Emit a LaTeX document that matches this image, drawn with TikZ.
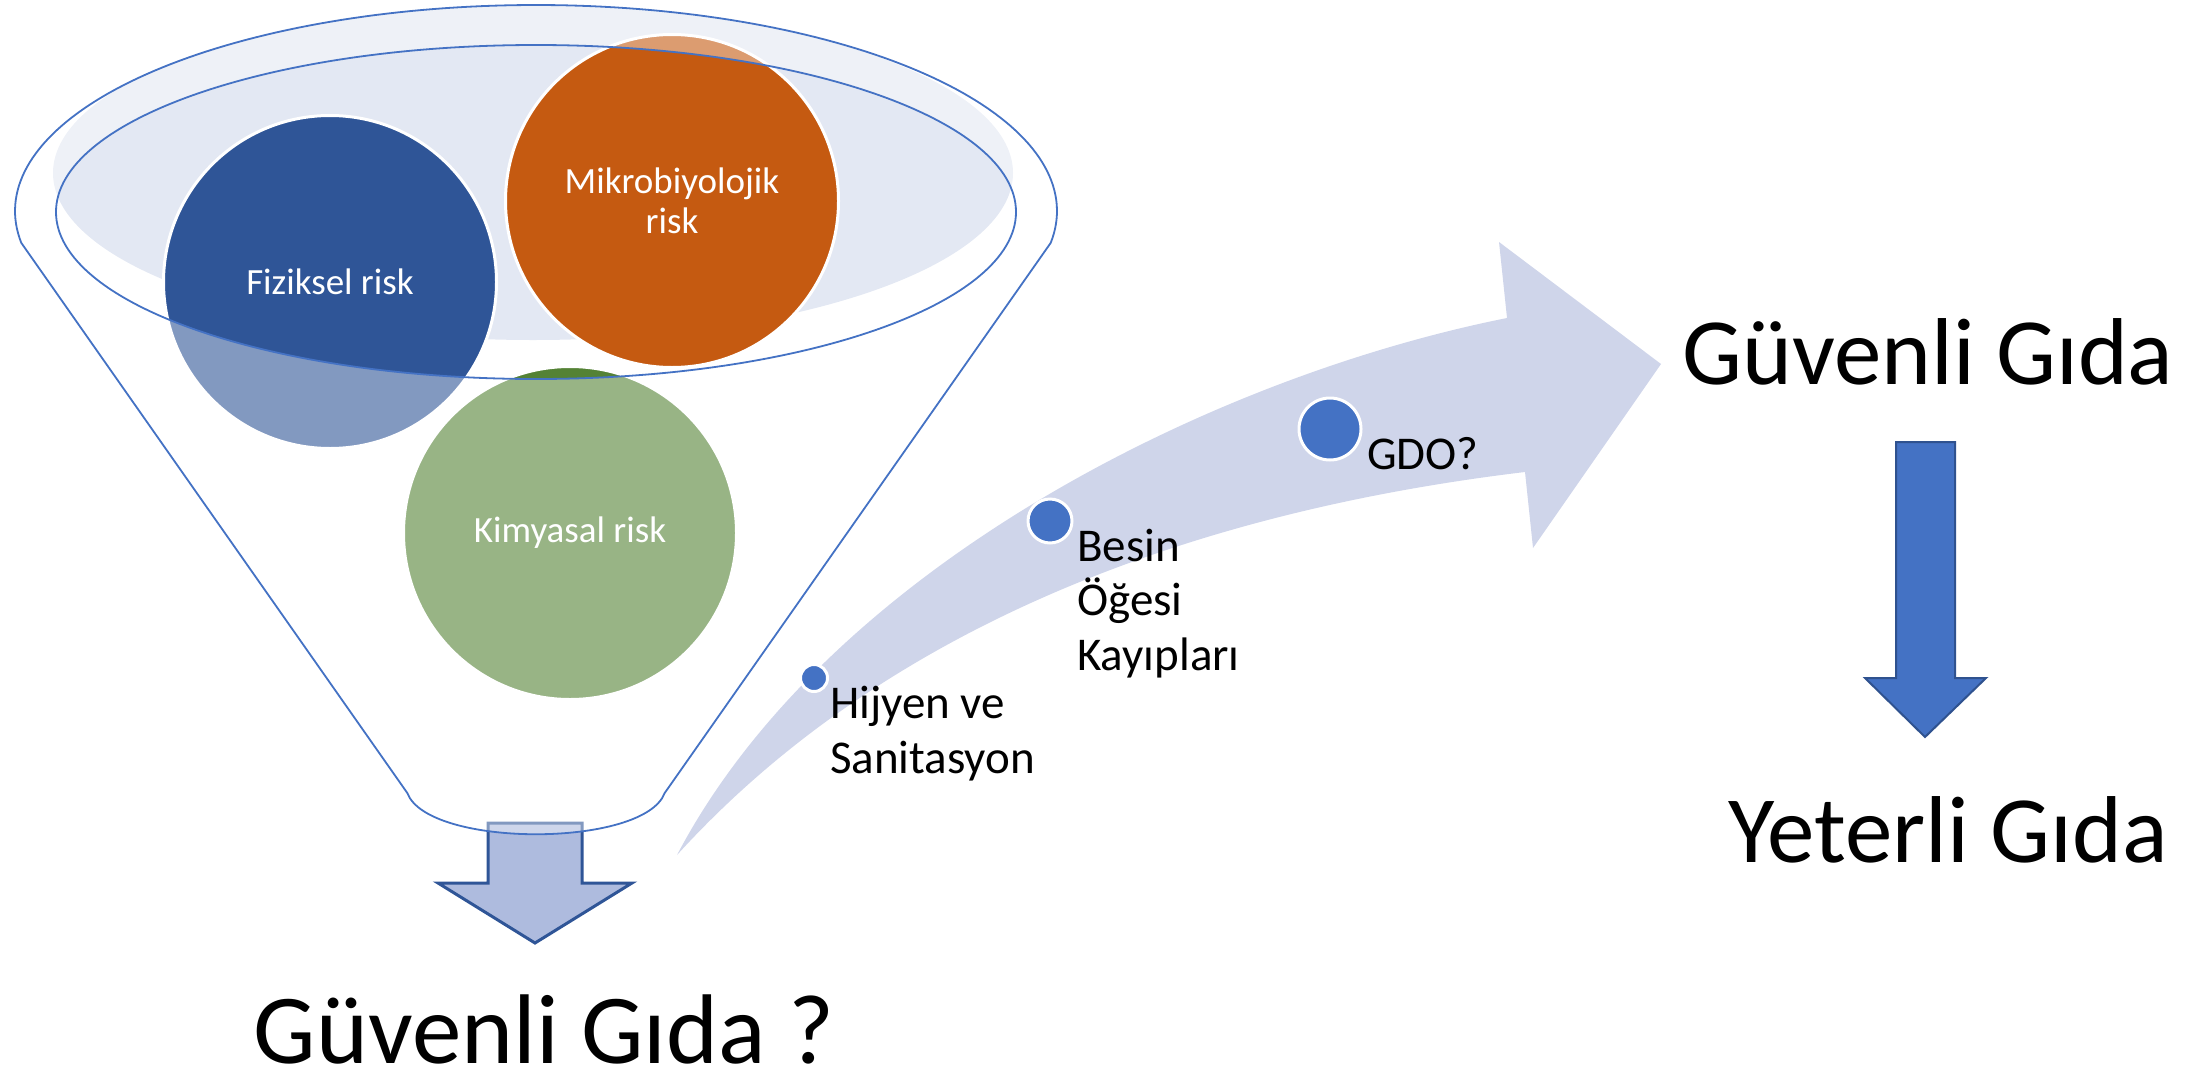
\documentclass[tikz,border=0pt]{standalone}
\usepackage{fontspec}
\setmainfont{Carlito}
\definecolor{accent}{HTML}{4472C4}
\definecolor{darkacc}{HTML}{2F528F}
\definecolor{fizblue}{HTML}{2F5597}
\definecolor{mikorange}{HTML}{C55A11}
\definecolor{kimgreen}{HTML}{548235}
\definecolor{liquid}{HTML}{E3E8F3}
\definecolor{bandcol}{HTML}{CFD5EA}
\definecolor{outarrow}{HTML}{AEBBDE}
\begin{document}
\begin{tikzpicture}[x=1pt,y=-1pt,
  riskcircle/.style={circle, minimum size=333pt, inner sep=0pt, draw=white, line width=3pt, text=white, font=\fontsize{37}{40}\selectfont, align=center},
  funnelline/.style={draw=accent, line width=1.8pt},
  bulletdot/.style={circle, fill=accent, draw=white, line width=3pt, inner sep=0pt},
  ptlabel/.style={font=\fontsize{47}{54.5}\selectfont, align=left, anchor=base west, inner sep=0pt},
  bigtext/.style={font=\fontsize{95}{110}\selectfont, anchor=base, inner sep=0pt},
  blockarrow/.style={line join=miter}]
\useasboundingbox (0,0) rectangle (2210,1076);

% liquid at top of funnel
\fill[liquid] (533,173) ellipse [x radius=480pt, y radius=167pt];

% risk circles
\node[riskcircle, fill=fizblue] (fiz) at (330,282) {Fiziksel risk};
\node[riskcircle, fill=mikorange] (mik) at (672,201) {Mikrobiyolojik\\risk};
\node[riskcircle, fill=kimgreen] (kim) at (570,533) {Kimyasal risk};

% arrow out of the funnel
\draw[blockarrow, fill=outarrow, draw=fizblue, line width=3pt]
  (488,823) coordinate (fa1) -- (582,823) -- (582,883) -- (632,883) -- (535,943) coordinate (fatip) -- (438,883) -- (488,883) -- cycle;

% funnel body (semi-transparent, open at the rim)
\path[fill=white, fill opacity=0.4, even odd rule]
  plot[domain=171.1:368.9, samples=150, variable=\t] ({536+521*cos(\t)},{211+206*sin(\t)})
  -- (664.7,793) .. controls (644,848) and (428,848) .. (407.3,793) -- cycle
  (536,212) ellipse [x radius=480pt, y radius=167pt];
\draw[funnelline]
  plot[domain=171.1:368.9, samples=150, variable=\t] ({536+521*cos(\t)},{211+206*sin(\t)})
  -- (664.7,793) .. controls (644,848) and (428,848) .. (407.3,793) -- cycle;
\draw[funnelline] (536,212) ellipse [x radius=480pt, y radius=167pt];

% curved rising arrow
\fill[bandcol] (677,855) coordinate (tail) .. controls (827,570) and (1207,378) .. (1507,318)
  -- (1499,242) -- (1661,364) coordinate (tip) -- (1533,548) -- (1525,472)
  .. controls (1175,514) and (877,635) .. (677,855) -- cycle;

% steps on the arrow
\node[bulletdot, minimum size=27pt] (d1) at (814,678) {};
\node[bulletdot, minimum size=44pt] (d2) at (1050,521) {};
\node[bulletdot, minimum size=62pt] (d3) at (1330,429) {};
\node[ptlabel] (l1) at (830,773) {Hijyen ve\\Sanitasyon};
\node[ptlabel] (l2) at (1077,670) {Besin\\Öğesi\\Kayıpları};
\node[ptlabel] (l3) at (1367,469) {GDO?};

% big texts
\node[bigtext, font=\fontsize{99}{110}\selectfont] (g1) at (544,1063) {Güvenli Gıda ?};
\node[bigtext] (g2) at (1928,384) {Güvenli Gıda};
\node[bigtext] (g3) at (1948,862) {Yeterli Gıda};

% down arrow on the right
\draw[blockarrow, fill=accent, draw=darkacc, line width=2pt]
  (1896,442) -- (1955,442) -- (1955,678) -- (1986,678) -- (1925,737) -- (1865,678) -- (1896,678) -- cycle;
\end{tikzpicture}
\end{document}
